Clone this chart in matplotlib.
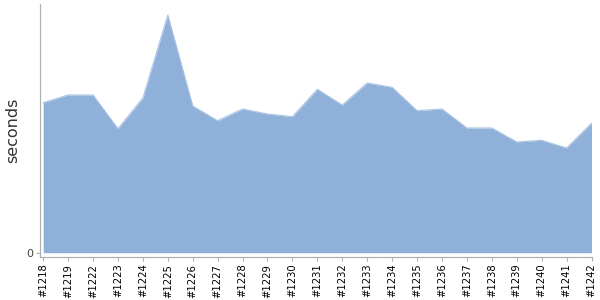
import matplotlib
matplotlib.use("Agg")
import matplotlib.pyplot as plt

builds = ["#1218", "#1219", "#1222", "#1223", "#1224", "#1225", "#1226", "#1227",
          "#1228", "#1229", "#1230", "#1231", "#1232", "#1233", "#1234", "#1235",
          "#1236", "#1237", "#1238", "#1239", "#1240", "#1241", "#1242"]
seconds = [150, 157.7, 157.7, 124, 154.7, 237.7, 146.7, 132, 143.7, 138.7, 136,
           163.4, 147.7, 169.7, 165.4, 142, 143.7, 124.7, 124.7, 110.7, 112.4, 104.7, 129.4]

fig = plt.figure(figsize=(6, 3), dpi=100)
ax = fig.add_axes([39.7 / 600, (300 - 256.7) / 300, (591.5 - 39.7) / 600, (256.7 - 4) / 300])
x = list(range(len(builds)))
ax.fill_between(x, 0, seconds, color="#8FB1D9", linewidth=0)
ax.plot(x, seconds, color="#A9C3E3", linewidth=0.8)
ax.set_xlim(-0.14, len(builds) - 1)
ax.set_ylim(-4, 248.7)
ax.set_xticks(x)
ax.set_xticklabels(builds, rotation=90, fontsize=7.2, color="black")
ax.set_yticks([0])
ax.set_yticklabels(["0"], fontsize=8, color="#444444")
ax.set_ylabel("seconds", fontsize=11.5, color="#333333")
ax.yaxis.set_label_coords((20 - 39.7) / 551.8, 0.5)
for s in ["top", "right"]:
    ax.spines[s].set_visible(False)
for s in ["left", "bottom"]:
    ax.spines[s].set_color("#B0B0B0")
    ax.spines[s].set_linewidth(0.9)
ax.tick_params(axis="both", colors="#B0B0B0", length=3, width=0.8, pad=2)
for lbl in ax.get_xticklabels():
    lbl.set_color("black")
for lbl in ax.get_yticklabels():
    lbl.set_color("#444444")
fig.savefig("out.png", dpi=100)
